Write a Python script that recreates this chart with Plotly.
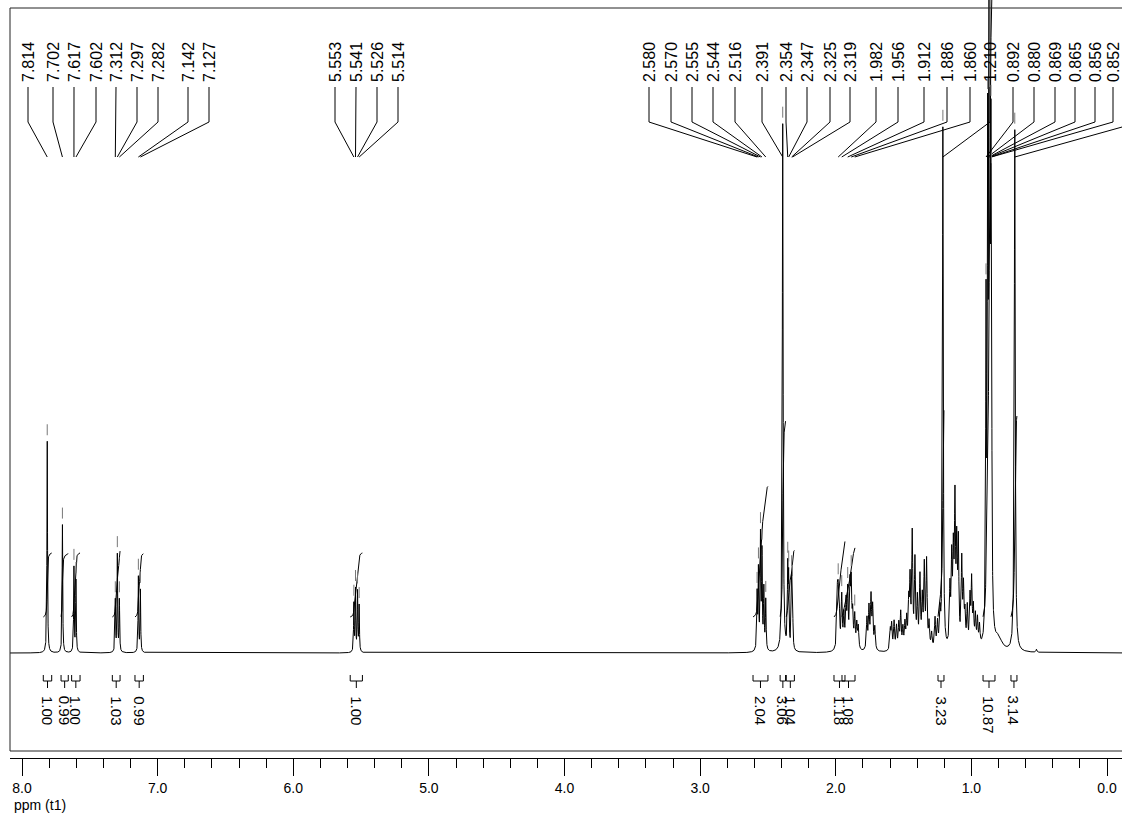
import numpy as np
import plotly.graph_objects as go

# ---------------- data ----------------
# peak list: chemical shift (ppm), height (arbitrary units), half width (ppm)
peak_ppm = [7.814, 7.702, 7.617, 7.602, 7.312, 7.297, 7.282, 7.142, 7.127,
            5.553, 5.541, 5.526, 5.514,
            2.580, 2.570, 2.555, 2.544, 2.530, 2.516,
            2.391,
            2.354, 2.347, 2.325, 2.319,
            1.988, 1.982, 1.974, 1.956, 1.940, 1.924, 1.912, 1.895, 1.886, 1.875, 1.860, 1.845, 1.834,
            1.770, 1.755, 1.740, 1.728, 1.712,
            1.598, 1.588, 1.570, 1.552, 1.535, 1.521, 1.505, 1.490, 1.477,
            1.462, 1.452, 1.436, 1.416, 1.398, 1.379, 1.362, 1.347, 1.330, 1.312, 1.293,
            1.268, 1.250, 1.231,
            1.210,
            1.158, 1.145, 1.133, 1.121, 1.108, 1.096, 1.071, 1.058, 1.047, 1.030, 1.010, 0.998,
            0.985, 0.970, 0.955, 0.940,
            0.892, 0.880, 0.869, 0.865, 0.856, 0.852,
            0.800,
            0.680,
            0.520]
peak_height = [213, 129, 85, 72, 52, 97, 52, 76, 62,
               48, 62, 60, 46,
               55, 78, 112, 95, 60, 50,
               528,
               78, 68, 66, 55,
               50, 44, 32, 52, 32, 44, 55, 58, 60, 32, 32, 24, 22,
               31, 41, 51, 41, 22,
               20, 25, 28, 23, 25, 36, 20, 24, 28,
               42, 64, 112, 86, 47, 70, 47, 80, 86, 24, 15,
               30, 25, 32,
               523,
               56, 82, 84, 138, 92, 98, 84, 55, 30, 39, 47, 64,
               36, 30, 27, 20,
               320, 450, 820, 600, 330, 300,
               12,
               523,
               3]
peak_hwhm = [0.0025] * 13 + [0.003] * 6 + [0.0035] + [0.003] * 4 \
            + [0.0045] * 41 + [0.0035] + [0.0045] * 16 \
            + [0.003] * 6 + [0.03] + [0.004] + [0.004]

# peak-picking labels and their label positions along the top (pixels)
label_text = ["7.814", "7.702", "7.617", "7.602", "7.312", "7.297", "7.282", "7.142", "7.127",
              "5.553", "5.541", "5.526", "5.514",
              "2.580", "2.570", "2.555", "2.544", "2.516", "2.391", "2.354", "2.347", "2.325", "2.319",
              "1.982", "1.956", "1.912", "1.886", "1.860", "1.210",
              "0.892", "0.880", "0.869", "0.865", "0.856", "0.852"]
label_px = [28, 53, 74, 96, 116, 137, 158, 188, 209,
            335, 356, 377, 398,
            649, 671, 692, 713, 735, 762, 786, 807, 830, 850,
            876, 898, 924, 947, 970, 990,
            1013, 1034, 1055, 1075, 1095, 1113]
offscreen_label_px = 1140      # label of the 0.680 singlet lies beyond the right edge
offscreen_label_ppm = 0.680

# integrals: label, start ppm, end ppm, value
integral_text = ["1.00", "0.99", "1.00", "1.03", "0.99", "1.00", "2.04", "3.06", "1.04",
                 "1.18", "1.08", "3.23", "10.87", "3.14"]
integral_start = [7.843, 7.712, 7.634, 7.334, 7.167, 5.580, 2.610, 2.410, 2.365,
                  2.013, 1.954, 1.246, 0.914, 0.708]
integral_end = [7.781, 7.659, 7.572, 7.277, 7.105, 5.490, 2.500, 2.370, 2.305,
                1.932, 1.858, 1.202, 0.826, 0.664]
integral_value = [1.00, 0.99, 1.00, 1.03, 0.99, 1.00, 2.04, 3.06, 1.04,
                  1.18, 1.08, 3.23, 10.87, 3.14]

# ---------------- layout geometry (pixels) ----------------
W, H = 1122, 814
PX_PER_PPM = 135.625
X_ZERO_PX = 1107
BASE_PX = 653
FRAME_L, FRAME_T, FRAME_B = 10, 8, 751
AXIS_PX = 758
FONT = "Liberation Sans, Arial, sans-serif"


def px2ppm(x):
    return (X_ZERO_PX - x) / PX_PER_PPM


def py2h(y):
    return BASE_PX - y


# ---------------- spectrum ----------------
grid = np.arange(px2ppm(W), px2ppm(FRAME_L), 0.0004)
P = np.array(peak_ppm)[:, None]
A = np.array(peak_height, dtype=float)[:, None]
Wd = np.array(peak_hwhm)[:, None]
spec = (A / (1.0 + ((grid[None, :] - P) / Wd) ** 2)).sum(axis=0)

fig = go.Figure()
fig.add_trace(go.Scatter(x=grid, y=spec, mode="lines",
                         line=dict(color="black", width=1), hoverinfo="skip"))

# integral curves
INT_OFFSET = py2h(617)
INT_UNIT = 64.0
ix, iy = [], []
for s, e, v in zip(integral_start, integral_end, integral_value):
    m = (grid <= s) & (grid >= e)
    xs = grid[m][::-1]
    ys = spec[m][::-1]
    c = np.cumsum(ys)
    c = c / c[-1]
    ix += list(xs) + [None]
    iy += list(INT_OFFSET + v * INT_UNIT * c) + [None]
fig.add_trace(go.Scatter(x=ix, y=iy, mode="lines",
                         line=dict(color="black", width=1), hoverinfo="skip"))

# integral brackets
bx, by = [], []
for s, e in zip(integral_start, integral_end):
    mid = 0.5 * (s + e)
    bx += [s, s, e, e, None, mid, mid, None]
    by += [py2h(675), py2h(681), py2h(681), py2h(675), None, py2h(681), py2h(688), None]
fig.add_trace(go.Scatter(x=bx, y=by, mode="lines",
                         line=dict(color="black", width=1), hoverinfo="skip"))

# peak leader lines
lx, ly = [], []
for t, xp in zip(label_text, label_px):
    xl = px2ppm(xp)
    lx += [xl, xl, float(t), None]
    ly += [py2h(87), py2h(122), py2h(157), None]
xl = px2ppm(offscreen_label_px)
lx += [xl, xl, offscreen_label_ppm, None]
ly += [py2h(87), py2h(122), py2h(157), None]
fig.add_trace(go.Scatter(x=lx, y=ly, mode="lines",
                         line=dict(color="black", width=1), hoverinfo="skip"))

# peak markers above the picked peaks
order = np.argsort(grid)
mx, my = [], []
for t in label_text + ["0.680"]:
    p = float(t)
    s = float(np.interp(p, grid[order], spec[order]))
    if s + 17 < py2h(FRAME_T + 4):
        mx += [p, p, None]
        my += [s + 6, s + 17, None]
fig.add_trace(go.Scatter(x=mx, y=my, mode="lines",
                         line=dict(color="#777777", width=1), hoverinfo="skip"))

# ---------------- annotations ----------------
ann = []
for t, xp in zip(label_text, label_px):
    ann.append(dict(x=px2ppm(xp), y=py2h(84), xref="x", yref="y", text=t,
                    textangle=-90, showarrow=False, xanchor="center", yanchor="bottom",
                    font=dict(family=FONT, size=16, color="black")))
for t, s, e in zip(integral_text, integral_start, integral_end):
    ann.append(dict(x=0.5 * (s + e), y=py2h(694), xref="x", yref="y", text=t,
                    textangle=90, showarrow=False, xanchor="center", yanchor="top",
                    font=dict(family=FONT, size=15, color="black")))
ann.append(dict(x=12 / W, y=1 - 805 / H, xref="paper", yref="paper", text="ppm (t1)",
                showarrow=False, xanchor="left", yanchor="middle",
                font=dict(family=FONT, size=14, color="black")))

# frame (left, top, bottom)
shapes = []
for (x0, y0, x1, y1) in [(FRAME_L, FRAME_T, FRAME_L, FRAME_B),
                         (FRAME_L, FRAME_T, W + 2, FRAME_T),
                         (FRAME_L, FRAME_B, W + 2, FRAME_B)]:
    shapes.append(dict(type="line", xref="paper", yref="paper",
                       x0=x0 / W, x1=x1 / W, y0=1 - y0 / H, y1=1 - y1 / H,
                       line=dict(color="#222222", width=1)))

fig.update_layout(
    width=W, height=H, margin=dict(l=0, r=0, t=0, b=0),
    paper_bgcolor="white", plot_bgcolor="white", showlegend=False,
    annotations=ann, shapes=shapes,
    xaxis=dict(domain=[FRAME_L / W, 1], range=[px2ppm(FRAME_L), px2ppm(W)],
               anchor="free", position=1 - AXIS_PX / H,
               showline=True, linecolor="black", linewidth=1,
               ticks="outside", ticklen=17, tickwidth=1, tickcolor="black",
               tick0=0, dtick=1, tickformat=".1f",
               minor=dict(ticks="outside", ticklen=9, tickwidth=1, tickcolor="black",
                          tick0=0, dtick=0.2, showgrid=False),
               showgrid=False, zeroline=False,
               tickfont=dict(family=FONT, size=14, color="black")),
    yaxis=dict(domain=[0, 1], range=[py2h(H), py2h(0)], visible=False,
               showgrid=False, zeroline=False),
)

fig.write_html("out.html",
               config={"displayModeBar": False, "staticPlot": True},
               post_script="document.body.style.margin='0';"
                           "document.body.style.padding='0';"
                           "document.body.style.overflow='hidden';")
